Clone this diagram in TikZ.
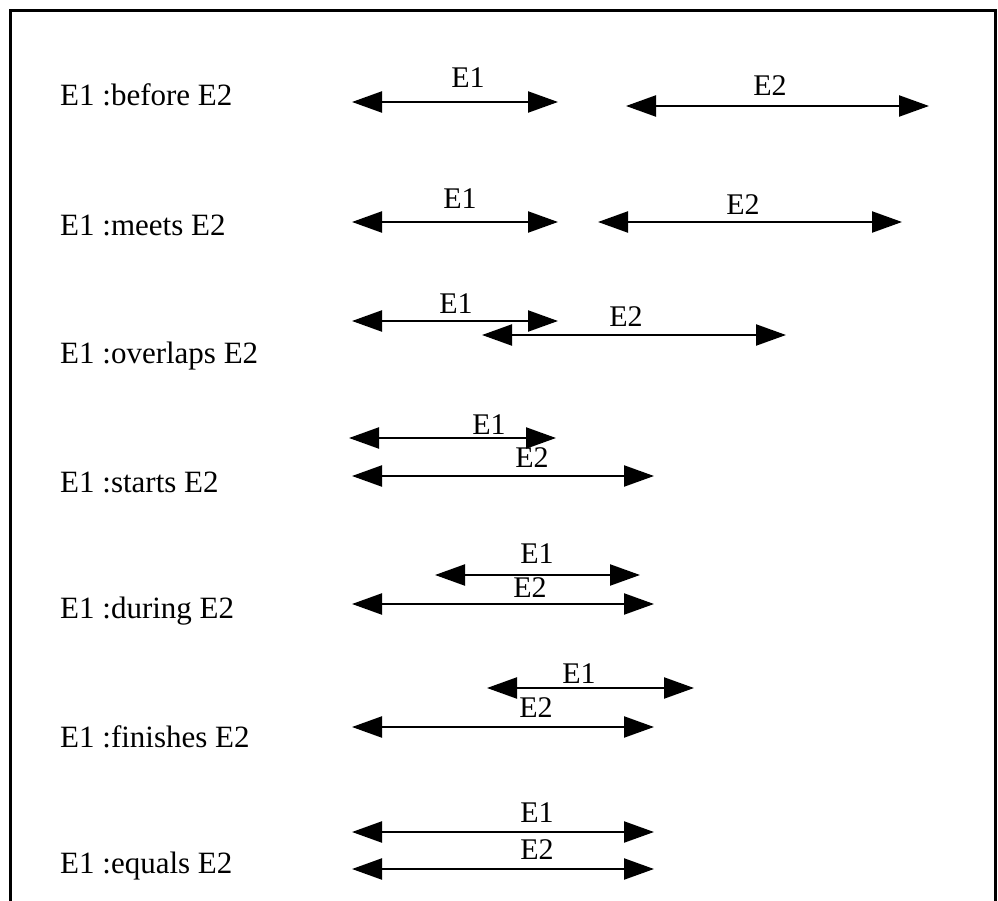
\documentclass[tikz,border=0pt]{standalone}
\usepackage{fontspec}
\setmainfont{Liberation Serif}
\usetikzlibrary{arrows.meta}
\begin{document}
\begin{tikzpicture}[x=1pt,y=-1pt,
  rel/.style={anchor=base west,inner sep=0pt,font=\fontsize{31}{36}\selectfont},
  lab/.style={anchor=base,inner sep=0pt,font=\fontsize{30}{36}\selectfont},
  iv/.style={line width=2.2pt,{Triangle[length=30pt,width=21pt]}-{Triangle[length=30pt,width=21pt]}},
  frame/.style={line width=3pt}]
\useasboundingbox (0,0) rectangle (998,901);
\draw[frame] (10,901) -- (10,11) -- (995,11) -- (995,901);
% row 1: before
\node[rel] (r1) at (60,106) {E1 :before E2};
\coordinate (a1) at (352,102); \coordinate (b1) at (558,102);
\coordinate (c1) at (626,106); \coordinate (d1) at (929,106);
\draw[iv] (a1) -- (b1); \draw[iv] (c1) -- (d1);
\node[lab] (l11) at (468,88) {E1};
\node[lab] (l12) at (770,96) {E2};
% row 2: meets
\node[rel] (r2) at (60,236) {E1 :meets E2};
\coordinate (a2) at (352,222); \coordinate (b2) at (558,222);
\coordinate (c2) at (598,222); \coordinate (d2) at (902,222);
\draw[iv] (a2) -- (b2); \draw[iv] (c2) -- (d2);
\node[lab] (l21) at (460,209) {E1};
\node[lab] (l22) at (743,215) {E2};
% row 3: overlaps
\node[rel] (r3) at (60,363) {E1 :overlaps E2};
\coordinate (a3) at (352,321); \coordinate (b3) at (558,321);
\coordinate (c3) at (482,335); \coordinate (d3) at (786,335);
\draw[iv] (a3) -- (b3); \draw[iv] (c3) -- (d3);
\node[lab] (l31) at (456,313) {E1};
\node[lab] (l32) at (626,326) {E2};
% row 4: starts
\node[rel] (r4) at (60,492) {E1 :starts E2};
\coordinate (a4) at (349,438); \coordinate (b4) at (556,438);
\coordinate (c4) at (352,476); \coordinate (d4) at (654,476);
\draw[iv] (a4) -- (b4); \draw[iv] (c4) -- (d4);
\node[lab] (l41) at (489,434) {E1};
\node[lab] (l42) at (532,467) {E2};
% row 5: during
\node[rel] (r5) at (60,618) {E1 :during E2};
\coordinate (a5) at (435,575); \coordinate (b5) at (640,575);
\coordinate (c5) at (352,604); \coordinate (d5) at (654,604);
\draw[iv] (a5) -- (b5); \draw[iv] (c5) -- (d5);
\node[lab] (l51) at (537,563) {E1};
\node[lab] (l52) at (530,597) {E2};
% row 6: finishes
\node[rel] (r6) at (60,747) {E1 :finishes E2};
\coordinate (a6) at (487,688); \coordinate (b6) at (694,688);
\coordinate (c6) at (352,727); \coordinate (d6) at (654,727);
\draw[iv] (a6) -- (b6); \draw[iv] (c6) -- (d6);
\node[lab] (l61) at (579,683) {E1};
\node[lab] (l62) at (536,717) {E2};
% row 7: equals
\node[rel] (r7) at (60,873) {E1 :equals E2};
\coordinate (a7) at (352,832); \coordinate (b7) at (654,832);
\coordinate (c7) at (352,869); \coordinate (d7) at (654,869);
\draw[iv] (a7) -- (b7); \draw[iv] (c7) -- (d7);
\node[lab] (l71) at (537,822) {E1};
\node[lab] (l72) at (537,859) {E2};
\end{tikzpicture}
\end{document}
